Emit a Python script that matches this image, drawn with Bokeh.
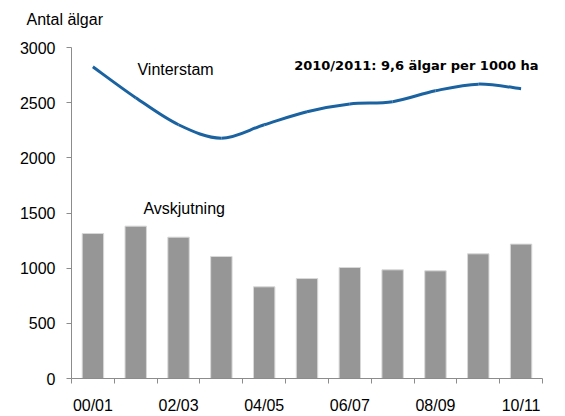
from bokeh.plotting import figure
from bokeh.models import Range1d, FixedTicker, Label, Title
from bokeh.embed import file_html
from bokeh.resources import INLINE
import numpy as np

seasons = ["00/01", "01/02", "02/03", "03/04", "04/05", "05/06",
           "06/07", "07/08", "08/09", "09/10", "10/11"]
avskjutning = [1314, 1381, 1281, 1106, 831, 906, 1006, 985, 976, 1130, 1218]
vinterstam = [2825, 2545, 2300, 2178, 2300, 2418, 2488, 2509, 2608, 2668, 2626]
y_ticks = [0, 500, 1000, 1500, 2000, 2500, 3000]
label_seasons = ["00/01", "02/03", "04/05", "06/07", "08/09", "10/11"]

FONT = "Liberation Sans"
n = len(seasons)
xc = np.arange(n) + 0.5

p = figure(width=565, height=416, output_backend="svg", toolbar_location=None,
           x_range=Range1d(0, n), y_range=Range1d(0, 3000),
           min_border_left=71, min_border_right=23, min_border_top=47,
           min_border_bottom=20, outline_line_color=None,
           title="Antal älgar")
p.grid.visible = False
p.background_fill_color = "white"

p.title.text_font = FONT
p.title.text_font_size = "16px"
p.title.text_font_style = "normal"
p.title.text_color = "black"
p.title.align = "left"
p.title.vertical_align = "middle"
p.title.offset = -45
p.title.standoff = 0

# spacer between the title and the plot frame
p.add_layout(Title(text=" ", text_font=FONT, text_font_size="16px",
                   standoff=0, text_color="white"), "above")

# bars
p.vbar(x=xc, top=avskjutning, width=0.5, fill_color="#969696",
       line_color="#d8d8d8", line_width=1)

# smooth line (Catmull-Rom segments drawn as bezier curves)
ys = np.array(vinterstam, dtype=float)
xp = np.concatenate([[xc[0]], xc, [xc[-1]]])
yp = np.concatenate([[ys[0]], ys, [ys[-1]]])
x0 = xc[:-1]; x1 = xc[1:]; y0 = ys[:-1]; y1 = ys[1:]
cx0 = x0 + (xp[2:-1] - xp[:-3]) / 6.0
cy0 = y0 + (yp[2:-1] - yp[:-3]) / 6.0
cx1 = x1 - (xp[3:] - xp[1:-2]) / 6.0
cy1 = y1 - (yp[3:] - yp[1:-2]) / 6.0
p.bezier(x0=x0, y0=y0, x1=x1, y1=y1, cx0=cx0, cy0=cy0, cx1=cx1, cy1=cy1,
         line_color="#1a62a0", line_width=3)

# axes
ax = p.xaxis[0]
ax.ticker = FixedTicker(ticks=[seasons.index(s) + 0.5 for s in label_seasons],
                        minor_ticks=list(range(n + 1)))
ax.major_label_overrides = {seasons.index(s) + 0.5: s for s in label_seasons}
ax.major_tick_line_color = None
ax.major_tick_out = 0
ax.minor_tick_in = 0
ax.minor_tick_out = 5
ax.minor_tick_line_color = "#8c8c8c"
ax.axis_line_color = "#8c8c8c"
ax.major_label_text_font = FONT
ax.major_label_text_font_size = "16px"
ax.major_label_text_color = "black"
ax.major_label_standoff = 13

ay = p.yaxis[0]
ay.ticker = FixedTicker(ticks=y_ticks)
ay.minor_tick_line_color = None
ay.major_tick_in = 0
ay.major_tick_out = 5
ay.major_tick_line_color = "#8c8c8c"
ay.axis_line_color = "#8c8c8c"
ay.major_label_text_font = FONT
ay.major_label_text_font_size = "16px"
ay.major_label_text_color = "black"
ay.major_label_standoff = 11

# texts
p.add_layout(Label(x=1.54, y=2800, text="Vinterstam", text_font=FONT,
                   text_color="black",
                   text_font_size="16px", text_baseline="middle", text_align="left"))
p.add_layout(Label(x=1.68, y=1545, text="Avskjutning", text_font=FONT,
                   text_color="black",
                   text_font_size="16px", text_baseline="middle", text_align="left"))
p.add_layout(Label(x=5.2, y=2837, text="2010/2011: 9,6 älgar per 1000 ha",
                   text_font="DejaVu Sans", text_font_style="bold",
                   text_color="black",
                   text_font_size="13px", text_baseline="middle", text_align="left"))

open("out.html", "w").write(file_html(p, INLINE))
